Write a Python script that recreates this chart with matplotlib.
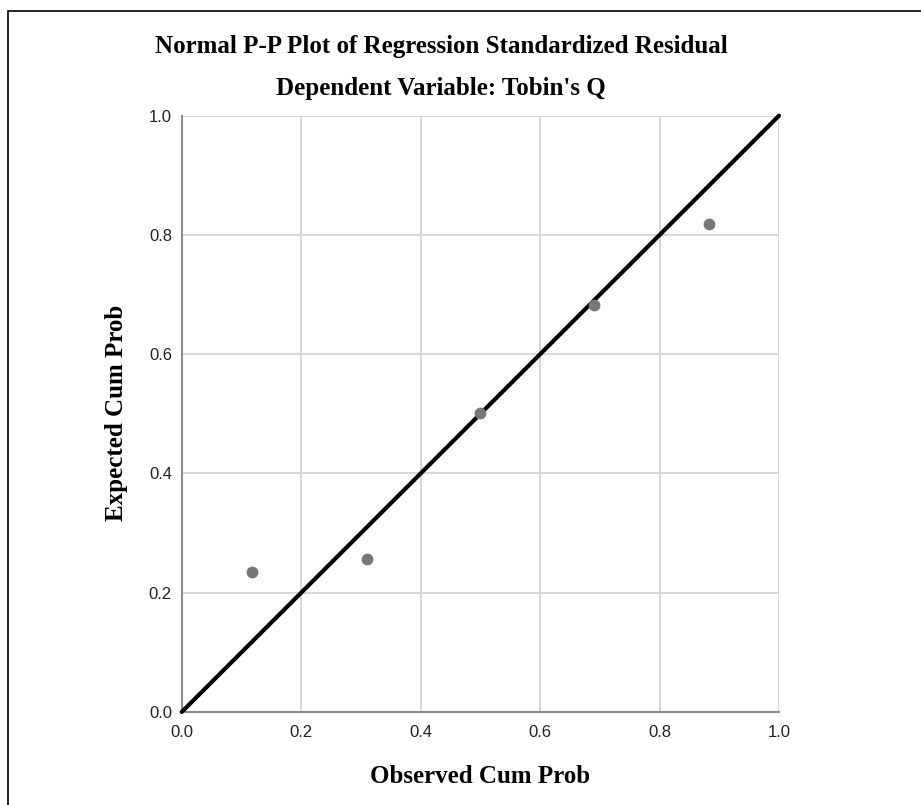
import matplotlib
matplotlib.use("Agg")
import matplotlib.pyplot as plt
from matplotlib.patches import Rectangle

observed = [0.118, 0.311, 0.500, 0.691, 0.882]
expected = [0.234, 0.256, 0.501, 0.683, 0.819]
ticks = [0.0, 0.2, 0.4, 0.6, 0.8, 1.0]
tick_labels = ["0.0", "0.2", "0.4", "0.6", "0.8", "1.0"]
title1 = "Normal P-P Plot of Regression Standardized Residual"
title2 = "Dependent Variable: Tobin's Q"
xlabel = "Observed Cum Prob"
ylabel = "Expected Cum Prob"

W, H = 921, 805
fig = plt.figure(figsize=(W / 100, H / 100), dpi=100)
fig.patch.set_facecolor("white")

# outer frame (only left/top visible)
fig.patches.append(Rectangle((8 / W, -0.1), 1.2, (1 - 11 / H) + 0.1,
                             transform=fig.transFigure, fill=False,
                             edgecolor="black", linewidth=1.2))

ax = fig.add_axes([181.7 / W, 1 - 712 / H, (779 - 181.7) / W, (712 - 115.7) / H])
ax.set_xlim(0, 1)
ax.set_ylim(0, 1)
ax.set_xticks(ticks)
ax.set_yticks(ticks)
ax.set_xticklabels(tick_labels, family="Liberation Sans", fontsize=12, color="#222222")
ax.set_yticklabels(tick_labels, family="Liberation Sans", fontsize=12, color="#222222")
ax.tick_params(axis="x", length=0, pad=9)
ax.tick_params(axis="y", length=0, pad=7)
ax.grid(True, color="#d4d4d4", linewidth=1.3)
ax.set_axisbelow(True)
for s in ["top", "right"]:
    ax.spines[s].set_visible(False)
for s in ["left", "bottom"]:
    ax.spines[s].set_color("#8c8c8c")
    ax.spines[s].set_linewidth(1.5)

ax.plot([0, 1], [0, 1], color="black", linewidth=3, solid_capstyle="round", zorder=3, clip_on=False)
ax.plot(observed, expected, "o", color="#777777", markersize=8.5, markeredgewidth=0, zorder=4)

fs = 18
fig.text(441 / W, 1 - 47 / H, title1, family="Liberation Serif",
         fontweight="bold", fontsize=fs, ha="center", va="center")
fig.text(441 / W, 1 - 88 / H, title2, family="Liberation Serif",
         fontweight="bold", fontsize=fs, ha="center", va="center")
fig.text(480 / W, 1 - 776 / H, xlabel, family="Liberation Serif",
         fontweight="bold", fontsize=fs, ha="center", va="center")
fig.text(117 / W, 1 - 413 / H, ylabel, family="Liberation Serif",
         fontweight="bold", fontsize=fs, ha="center", va="center", rotation=90)

fig.savefig("out.png", dpi=100, facecolor="white")
